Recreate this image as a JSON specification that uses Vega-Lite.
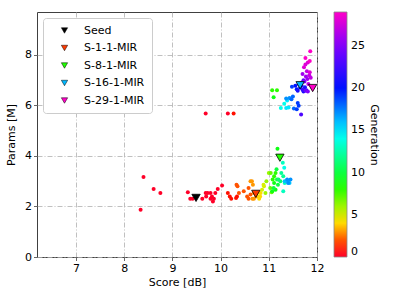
{
  "$schema": "https://vega.github.io/schema/vega-lite/v6.json",
  "width": 280,
  "height": 245,
  "autosize": {"type": "none"},
  "padding": {"left": 37, "top": 12, "right": 82, "bottom": 42},
  "config": {
    "font": "DejaVu Sans",
    "view": {"stroke": "#404040", "strokeWidth": 1},
    "axis": {
      "domain": false,
      "tickColor": "#404040",
      "tickSize": 3.5,
      "tickWidth": 0.8,
      "labelFontSize": 11,
      "labelColor": "#000000",
      "titleFontSize": 11,
      "titleFontWeight": "normal",
      "titleColor": "#000000",
      "gridColor": "#b0b0b0",
      "gridDash": [5, 2, 1, 2],
      "gridWidth": 0.8,
      "labelPadding": 2,
      "labelFlush": false
    }
  },
  "datasets": {
    "pop": [
      {"score": 8.40, "params": 3.17, "gen": 0}, {"score": 8.34, "params": 1.87, "gen": 0}, {"score": 8.61, "params": 2.69, "gen": 0},
      {"score": 8.75, "params": 2.53, "gen": 0}, {"score": 9.32, "params": 2.56, "gen": 0}, {"score": 9.37, "params": 2.31, "gen": 0},
      {"score": 9.42, "params": 2.31, "gen": 0}, {"score": 9.62, "params": 2.31, "gen": 0}, {"score": 9.69, "params": 2.53, "gen": 0},
      {"score": 9.73, "params": 2.53, "gen": 0}, {"score": 9.79, "params": 2.53, "gen": 0}, {"score": 9.70, "params": 2.40, "gen": 0},
      {"score": 9.82, "params": 2.40, "gen": 0}, {"score": 9.79, "params": 2.31, "gen": 0}, {"score": 9.86, "params": 2.31, "gen": 0},
      {"score": 9.84, "params": 2.20, "gen": 0}, {"score": 9.89, "params": 2.53, "gen": 0}, {"score": 9.94, "params": 2.69, "gen": 0},
      {"score": 10.03, "params": 2.83, "gen": 0}, {"score": 9.69, "params": 5.68, "gen": 0}, {"score": 10.15, "params": 5.68, "gen": 0},
      {"score": 10.27, "params": 5.68, "gen": 1}, {"score": 10.15, "params": 2.53, "gen": 1}, {"score": 10.19, "params": 2.40, "gen": 1},
      {"score": 10.22, "params": 2.31, "gen": 1}, {"score": 10.34, "params": 2.40, "gen": 1}, {"score": 10.32, "params": 2.34, "gen": 1},
      {"score": 10.35, "params": 2.80, "gen": 2}, {"score": 10.33, "params": 2.86, "gen": 2}, {"score": 10.38, "params": 2.53, "gen": 2},
      {"score": 10.48, "params": 2.60, "gen": 2}, {"score": 10.55, "params": 2.40, "gen": 2}, {"score": 10.58, "params": 2.31, "gen": 2},
      {"score": 10.62, "params": 2.47, "gen": 2}, {"score": 10.58, "params": 2.73, "gen": 2},
      {"score": 10.62, "params": 3.00, "gen": 3}, {"score": 10.65, "params": 3.00, "gen": 3}, {"score": 10.67, "params": 2.86, "gen": 3},
      {"score": 10.69, "params": 2.53, "gen": 3}, {"score": 10.66, "params": 2.31, "gen": 3}, {"score": 10.69, "params": 2.31, "gen": 3},
      {"score": 10.74, "params": 2.40, "gen": 3},
      {"score": 10.80, "params": 2.31, "gen": 4}, {"score": 10.76, "params": 2.53, "gen": 4}, {"score": 10.80, "params": 2.40, "gen": 4},
      {"score": 10.83, "params": 2.53, "gen": 4}, {"score": 10.82, "params": 2.40, "gen": 4},
      {"score": 10.86, "params": 2.66, "gen": 5}, {"score": 10.90, "params": 2.80, "gen": 5}, {"score": 10.89, "params": 2.86, "gen": 5},
      {"score": 10.95, "params": 3.00, "gen": 6}, {"score": 10.93, "params": 2.53, "gen": 6}, {"score": 11.00, "params": 3.33, "gen": 6},
      {"score": 11.03, "params": 2.73, "gen": 7}, {"score": 11.04, "params": 3.33, "gen": 7}, {"score": 11.06, "params": 2.56, "gen": 7},
      {"score": 11.08, "params": 3.07, "gen": 8}, {"score": 11.11, "params": 3.20, "gen": 8}, {"score": 11.14, "params": 3.33, "gen": 8},
      {"score": 11.07, "params": 6.60, "gen": 8}, {"score": 11.17, "params": 6.60, "gen": 8},
      {"score": 11.11, "params": 2.93, "gen": 9}, {"score": 11.07, "params": 2.60, "gen": 9}, {"score": 11.14, "params": 2.66, "gen": 9},
      {"score": 11.10, "params": 6.32, "gen": 9}, {"score": 11.18, "params": 4.29, "gen": 9},
      {"score": 11.17, "params": 3.07, "gen": 10}, {"score": 11.16, "params": 3.47, "gen": 10}, {"score": 11.10, "params": 2.73, "gen": 10},
      {"score": 11.19, "params": 2.86, "gen": 10},
      {"score": 11.20, "params": 3.07, "gen": 11}, {"score": 11.24, "params": 3.00, "gen": 11},
      {"score": 11.26, "params": 3.33, "gen": 12}, {"score": 11.30, "params": 3.20, "gen": 12},
      {"score": 11.29, "params": 3.73, "gen": 13}, {"score": 11.33, "params": 2.93, "gen": 13}, {"score": 11.30, "params": 2.60, "gen": 13},
      {"score": 11.32, "params": 3.53, "gen": 14}, {"score": 11.25, "params": 5.90, "gen": 14}, {"score": 11.32, "params": 6.07, "gen": 14},
      {"score": 11.36, "params": 5.90, "gen": 15}, {"score": 11.41, "params": 5.92, "gen": 15}, {"score": 11.38, "params": 6.20, "gen": 15},
      {"score": 11.33, "params": 3.00, "gen": 16}, {"score": 11.40, "params": 3.00, "gen": 16}, {"score": 11.43, "params": 2.93, "gen": 16},
      {"score": 11.45, "params": 3.07, "gen": 17}, {"score": 11.38, "params": 3.07, "gen": 17}, {"score": 11.40, "params": 2.93, "gen": 17},
      {"score": 11.36, "params": 6.28, "gen": 17}, {"score": 11.43, "params": 6.30, "gen": 17},
      {"score": 11.50, "params": 6.35, "gen": 18}, {"score": 11.47, "params": 6.25, "gen": 18}, {"score": 11.52, "params": 5.88, "gen": 18},
      {"score": 11.58, "params": 5.85, "gen": 19}, {"score": 11.62, "params": 5.99, "gen": 19}, {"score": 11.60, "params": 6.10, "gen": 19},
      {"score": 11.48, "params": 6.74, "gen": 19},
      {"score": 11.55, "params": 6.78, "gen": 20}, {"score": 11.58, "params": 6.64, "gen": 20}, {"score": 11.65, "params": 6.70, "gen": 20},
      {"score": 11.62, "params": 6.85, "gen": 20},
      {"score": 11.68, "params": 6.78, "gen": 21}, {"score": 11.72, "params": 6.55, "gen": 21}, {"score": 11.75, "params": 6.72, "gen": 21},
      {"score": 11.60, "params": 6.58, "gen": 21},
      {"score": 11.70, "params": 6.62, "gen": 22}, {"score": 11.78, "params": 6.60, "gen": 22},
      {"score": 11.67, "params": 5.64, "gen": 23}, {"score": 11.68, "params": 6.90, "gen": 23},
      {"score": 11.72, "params": 7.00, "gen": 24}, {"score": 11.76, "params": 6.58, "gen": 24},
      {"score": 11.74, "params": 6.95, "gen": 25}, {"score": 11.81, "params": 6.55, "gen": 25},
      {"score": 11.80, "params": 7.05, "gen": 26}, {"score": 11.77, "params": 7.15, "gen": 26}, {"score": 11.70, "params": 7.25, "gen": 26},
      {"score": 11.84, "params": 7.20, "gen": 27}, {"score": 11.87, "params": 7.10, "gen": 27}, {"score": 11.82, "params": 6.85, "gen": 27},
      {"score": 11.79, "params": 7.35, "gen": 27},
      {"score": 11.73, "params": 7.51, "gen": 28}, {"score": 11.76, "params": 7.62, "gen": 28}, {"score": 11.81, "params": 7.70, "gen": 28},
      {"score": 11.85, "params": 7.31, "gen": 28},
      {"score": 11.76, "params": 7.88, "gen": 29}, {"score": 11.85, "params": 7.76, "gen": 29}, {"score": 11.86, "params": 8.15, "gen": 29},
      {"score": 11.90, "params": 6.72, "gen": 29}
    ],
    "best": [
      {"score": 9.49, "params": 2.34, "name": "Seed"},
      {"score": 10.73, "params": 2.50, "name": "S-1-1-MIR"},
      {"score": 11.23, "params": 3.93, "name": "S-8-1-MIR"},
      {"score": 11.65, "params": 6.80, "name": "S-16-1-MIR"},
      {"score": 11.91, "params": 6.69, "name": "S-29-1-MIR"}
    ]
  },
  "layer": [
    {
      "data": {"name": "pop"},
      "mark": {"type": "point", "filled": true, "shape": "circle", "size": 16, "opacity": 1},
      "encoding": {
        "x": {"field": "score", "type": "quantitative", "scale": {"domain": [6.19, 12.0], "nice": false, "zero": false},
              "axis": {"title": "Score [dB]", "values": [7, 8, 9, 10, 11, 12], "titlePadding": 3}},
        "y": {"field": "params", "type": "quantitative", "scale": {"domain": [0, 9.7], "nice": false},
              "axis": {"title": "Params [M]", "values": [0, 2, 4, 6, 8], "titlePadding": 8}},
        "color": {
          "field": "gen", "type": "quantitative",
          "scale": {"domain": [0, 1, 4.3, 8.5, 14.5, 20, 25, 29],
                    "range": ["#ff0028", "#ff1000", "#ffee00", "#10ff00", "#00ffff", "#0010ff", "#8000ff", "#ff00c8"],
                    "interpolate": "rgb"},
          "legend": {
            "orient": "right", "offset": 17, "direction": "vertical",
            "gradientLength": 245, "gradientThickness": 13,
            "values": [0, 5, 10, 15, 20, 25],
            "title": "Generation", "titleOrient": "right", "titleFontSize": 11, "titleFontWeight": "normal",
            "titleColor": "#000000", "titlePadding": 4,
            "labelFontSize": 11, "labelOffset": 4, "labelColor": "#000000",
            "gradientStrokeColor": "#888888", "gradientStrokeWidth": 0.8, "padding": 0,
            "encode": {"title": {"update": {"angle": {"value": 270}}}}
          }
        }
      }
    },
    {
      "data": {"name": "best"},
      "mark": {"type": "point", "filled": true, "shape": "triangle-down", "size": 70, "stroke": "black", "strokeWidth": 0.8, "opacity": 1},
      "encoding": {
        "x": {"field": "score", "type": "quantitative"},
        "y": {"field": "params", "type": "quantitative"},
        "color": {
          "field": "name", "type": "nominal",
          "scale": {"domain": ["Seed", "S-1-1-MIR", "S-8-1-MIR", "S-16-1-MIR", "S-29-1-MIR"],
                    "range": ["#000000", "#ff3a00", "#20ff00", "#00b8ff", "#ff00c8"]},
          "legend": {
            "orient": "top-left", "offset": 6, "title": null,
            "fillColor": "white", "strokeColor": "#cccccc", "cornerRadius": 3, "padding": 7,
            "symbolType": "triangle-down", "symbolSize": 40, "symbolStrokeColor": "black", "symbolStrokeWidth": 0.5,
            "symbolOffset": 9, "labelOffset": 14, "labelFontSize": 11, "labelColor": "#000000", "rowPadding": 5.5
          }
        }
      }
    }
  ],
  "resolve": {"scale": {"color": "independent"}}
}
